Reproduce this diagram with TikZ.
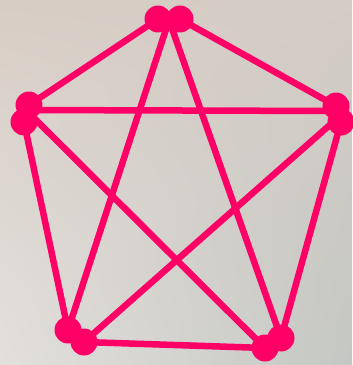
\documentclass[tikz,border=0pt]{standalone}
\usetikzlibrary{calc,shadings}
\definecolor{pinkline}{HTML}{FF0066}
\definecolor{bgtl}{HTML}{D8CDC5}
\definecolor{bgtr}{HTML}{D4CCC5}
\definecolor{bgbl}{HTML}{E3E0DC}
\definecolor{bgbr}{HTML}{C4C7C3}

\begin{document}
\begin{tikzpicture}[
  x=0.02cm, y=-0.02cm,
  edge/.style={draw=pinkline, line width=0.13cm},
  dot/.style={circle, fill=pinkline, inner sep=0pt, minimum size=0.54cm}
]

% background
\shade[upper left=bgtl, upper right=bgtr, lower left=bgbl, lower right=bgbr]
  (0,0) rectangle (352,365);
\useasboundingbox (0,0) rectangle (352,365);

% vertex points (two dots each)
\coordinate (t1) at (158,19);  \coordinate (t2) at (180,19);  \coordinate (t) at (169,20);
\coordinate (l1) at (29,105);  \coordinate (l2) at (24,122);  \coordinate (l) at (26,110);
\coordinate (r1) at (336,106); \coordinate (r2) at (341,122); \coordinate (r) at (339,111);
\coordinate (b1) at (68,330);  \coordinate (b2) at (84,342);  \coordinate (b) at (75,336);
\coordinate (c1) at (281,338); \coordinate (c2) at (265,348); \coordinate (c) at (273,344);
\coordinate (rm) at (340,116);

% edges
\draw[edge] (t1) -- (l1);
\draw[edge] (t2) -- (r1);
\draw[edge] (t) -- (b1);
\draw[edge] (t) -- (c1);
\draw[edge] (l) -- (r);
\draw[edge] (l2) -- (b1);
\draw[edge] (l) -- (c2);
\draw[edge] (rm) -- (b2);
\draw[edge] (r2) -- (c1);
\draw[edge] (b2) -- (c2);

% dots
\foreach \p in {t1,t2,l1,l2,r1,r2,b1,b2,c1,c2}
  \node[dot] (d\p) at (\p) {};

\end{tikzpicture}
\end{document}
